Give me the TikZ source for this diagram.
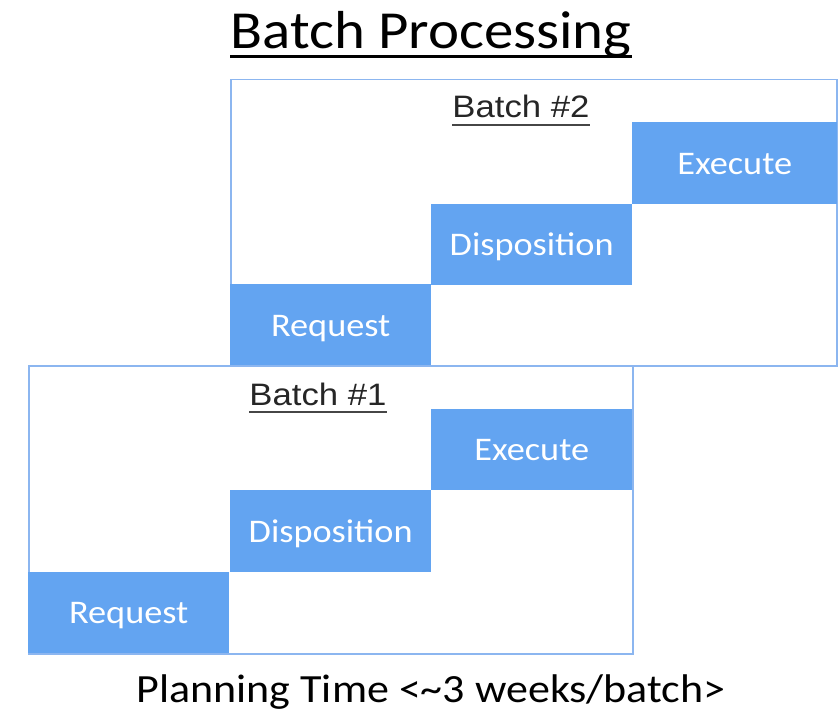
\documentclass[tikz,border=0pt]{standalone}
\usepackage{graphicx}
\usepackage{fontspec}
\setmainfont{Carlito}
\newfontfamily\labelfont{Liberation Sans}
\definecolor{stepblue}{RGB}{99,164,241}
\definecolor{framblue}{RGB}{140,182,240}
\definecolor{ulgray}{RGB}{70,70,70}
% slightly widened lettering
\newcommand{\wide}[1]{\scalebox{1.1}[1]{#1}}
\begin{document}
\begin{tikzpicture}[x=1pt,y=-1pt,
  frame/.style={draw=framblue,line width=1.5pt,fill=white,inner sep=0pt,anchor=north west},
  stepbox/.style={fill=stepblue,inner sep=0pt,minimum width=201pt,minimum height=81.5pt,
    text height=23pt,text depth=0pt,
    anchor=north west,text=white,font=\fontsize{33}{40}\selectfont},
  batchlbl/.style={inner sep=0pt,anchor=base,font=\labelfont\fontsize{31}{37}\selectfont,text=black!85},
  uline/.style={line width=2pt,ulgray}]
\useasboundingbox (0,0) rectangle (838,711);

% Title
\node[inner sep=0pt,anchor=base,font=\fontsize{53.5}{62}\selectfont] (title) at (431,49) {\wide{Batch Processing}};
\draw[line width=3pt] ([yshift=-8pt]title.base west) -- ([yshift=-8pt]title.base east);

% Batch #2 frame and steps
\node[frame,minimum width=606pt,minimum height=286pt] (frame2) at (230,79) {};
\node[batchlbl] (lbl2) at (521,118) {\scalebox{1.12}[1]{Batch \#2}};
\draw[uline] ([yshift=-7pt]lbl2.base west) -- ([yshift=-7pt]lbl2.base east);
\node[stepbox] (req2) at (230,284) {\wide{Request}};
\node[stepbox] (disp2) at (431,203.5) {\wide{Disposition}};
\node[stepbox,minimum width=205pt] (exec2) at (632,122) {\wide{Execute}};

% Batch #1 frame and steps
\node[frame,minimum width=604pt,minimum height=288pt] (frame1) at (28,365) {};
\node[batchlbl] (lbl1) at (318,405) {\scalebox{1.12}[1]{Batch \#1}};
\draw[uline] ([yshift=-7pt]lbl1.base west) -- ([yshift=-7pt]lbl1.base east);
\node[stepbox] (req1) at (28,571.5) {\wide{Request}};
\node[stepbox] (disp1) at (230,490) {\wide{Disposition}};
\node[stepbox] (exec1) at (431,408.5) {\wide{Execute}};

% Caption
\node[inner sep=0pt,anchor=base,font=\fontsize{40}{47}\selectfont] (caption) at (431,702) {\wide{Planning Time <\textasciitilde 3 weeks/batch>}};
\end{tikzpicture}
\end{document}
